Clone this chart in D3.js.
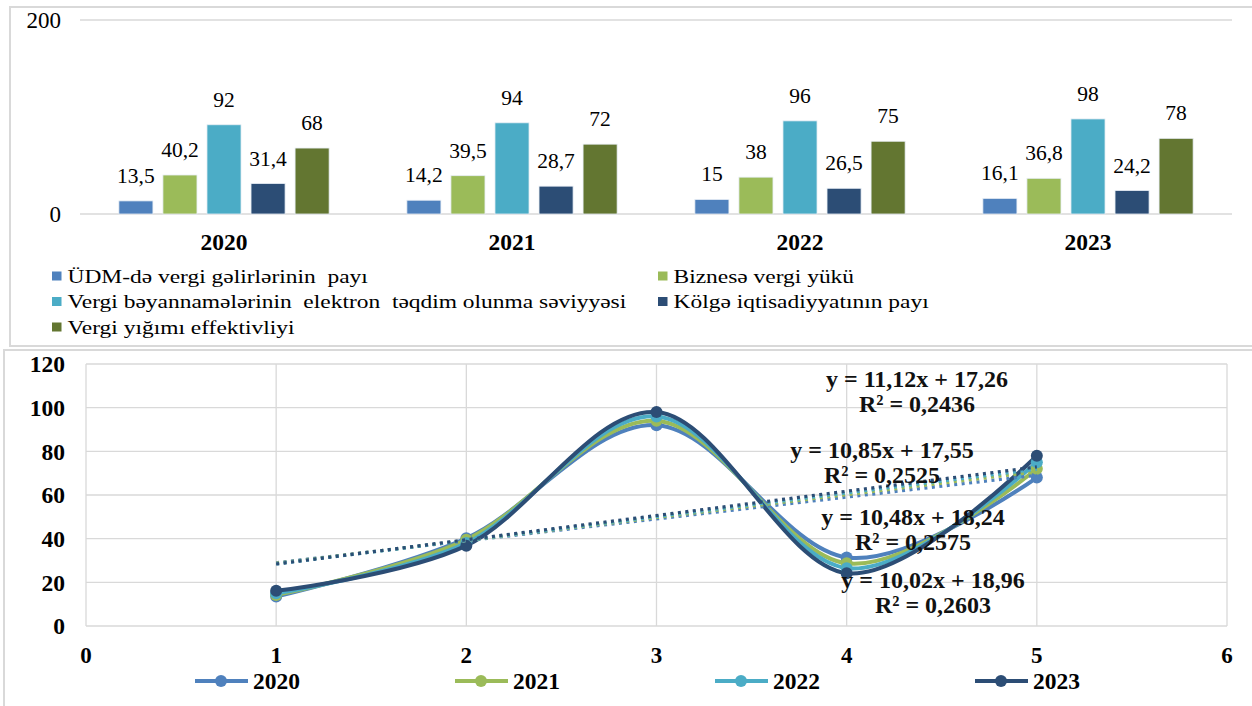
<!DOCTYPE html>
<html>
<head>
<meta charset="utf-8">
<script src="https://cdn.jsdelivr.net/npm/d3@7"></script>
<style>
body { margin: 0; background: #fff; }
svg { display: block; }
svg text { font-family: 'Liberation Serif', 'Times New Roman', Tinos, 'DejaVu Serif', serif; }
</style>
</head>
<body>
<div id="chart"></div>
<script>
// data
var years = ['2020', '2021', '2022', '2023'];
var indicators = [
	'ÜDM-də vergi gəlirlərinin  payı',
	'Biznesə vergi yükü',
	'Vergi bəyannamələrinin  elektron  təqdim olunma səviyyəsi',
	'Kölgə iqtisadiyyatının payı',
	'Vergi yığımı effektivliyi'
];
var v2020 = [13.5, 40.2, 92, 31.4, 68];
var v2021 = [14.2, 39.5, 94, 28.7, 72];
var v2022 = [15, 38, 96, 26.5, 75];
var v2023 = [16.1, 36.8, 98, 24.2, 78];
var barTicks = [0, 200];
var lineXTicks = [0, 1, 2, 3, 4, 5, 6];
var lineYTicks = [0, 20, 40, 60, 80, 100, 120];
var positions = [1, 2, 3, 4, 5];

var seriesByYear = [v2020, v2021, v2022, v2023];
var colors = ['#4f81bd', '#9bbb59', '#4bacc6', '#2c4d75', '#637631'];

const width = 1252;
const height = 706;
const serif = "'Liberation Serif', 'Times New Roman', Tinos, 'DejaVu Serif', serif";

var svg = d3.select('#chart').append('svg')
	.attr('width', width)
	.attr('height', height)
	.attr('font-family', serif);

// frames of the two pasted charts
svg.append('rect').attr('x', 10).attr('y', 7).attr('width', 1260).attr('height', 339)
	.attr('fill', 'none').attr('stroke', '#d9d9d9').attr('stroke-width', 2);
svg.append('rect').attr('x', 4).attr('y', 350).attr('width', 1260).attr('height', 380)
	.attr('fill', '#fff').attr('stroke', '#d9d9d9').attr('stroke-width', 2);

// ---------- top: grouped bars ----------
const barArea = { left: 80, right: 1232, y0: 214, y1: 20 };

const x0 = d3.scaleBand().domain(years).range([barArea.left, barArea.right])
	.paddingInner(0.27).paddingOuter(0.135);
const x1 = d3.scaleBand().domain(d3.range(indicators.length)).range([0, x0.bandwidth()])
	.paddingInner(0.227).paddingOuter(0);
const yBar = d3.scaleLinear().domain([0, 200]).range([barArea.y0, barArea.y1]);

var gTop = svg.append('g');

gTop.selectAll('line.grid').data(barTicks).enter().append('line')
	.attr('x1', barArea.left).attr('x2', barArea.right)
	.attr('y1', d => yBar(d)).attr('y2', d => yBar(d))
	.attr('stroke', '#d9d9d9').attr('stroke-width', 1.3);

gTop.selectAll('text.ytick').data(barTicks).enter().append('text')
	.attr('x', 61).attr('y', d => yBar(d)).attr('dy', '0.35em')
	.attr('text-anchor', 'end').style('font-size', '23px')
	.text(d => d);

var groups = gTop.selectAll('g.year').data(years).enter().append('g')
	.attr('transform', d => 'translate(' + x0(d) + ',0)');

groups.selectAll('rect').data((d, i) => seriesByYear[i].map((v, j) => ({ v: v, j: j })))
	.enter().append('rect')
	.attr('x', d => x1(d.j)).attr('width', x1.bandwidth())
	.attr('y', d => yBar(d.v)).attr('height', d => yBar(0) - yBar(d.v))
	.attr('fill', d => colors[d.j])
	.attr('stroke', '#e8eef5').attr('stroke-width', 0.8);

groups.selectAll('text').data((d, i) => seriesByYear[i].map((v, j) => ({ v: v, j: j })))
	.enter().append('text')
	.attr('x', d => x1(d.j) + x1.bandwidth() / 2)
	.attr('y', d => yBar(d.v) - 18)
	.attr('text-anchor', 'middle').style('font-size', '21.5px')
	.text(d => String(d.v).replace('.', ','));

gTop.selectAll('text.cat').data(years).enter().append('text')
	.attr('x', d => x0(d) + x0.bandwidth() / 2).attr('y', 250)
	.attr('text-anchor', 'middle').style('font-size', '23.5px').style('font-weight', 'bold')
	.text(d => d);

// legend text in the original is stretched sideways
var legTop = gTop.selectAll('g.leg').data(indicators).enter().append('g')
	.attr('transform', (d, i) => 'translate(' + (i % 2 ? 658 : 52) + ',' + (276 + Math.floor(i / 2) * 25.5) + ')');
legTop.append('rect').attr('x', 0).attr('y', -4.5).attr('width', 9.5).attr('height', 9)
	.attr('fill', (d, i) => colors[i]);
legTop.append('text')
	.attr('transform', 'translate(15.5,0) scale(1.235,1)')
	.attr('dy', '0.35em')
	.style('font-size', '19px').style('white-space', 'pre')
	.text(d => d);

// ---------- bottom: smoothed lines with linear trends ----------
const lineArea = { left: 86, right: 1227, y0: 626, y1: 364 };
const xLine = d3.scaleLinear().domain([0, 6]).range([lineArea.left, lineArea.right]);
const yLine = d3.scaleLinear().domain([0, 120]).range([lineArea.y0, lineArea.y1]);

var gBot = svg.append('g');

gBot.selectAll('line.hgrid').data(lineYTicks).enter().append('line')
	.attr('x1', lineArea.left).attr('x2', lineArea.right)
	.attr('y1', d => yLine(d)).attr('y2', d => yLine(d))
	.attr('stroke', '#d9d9d9').attr('stroke-width', 1.3);
gBot.selectAll('line.vgrid').data(lineXTicks).enter().append('line')
	.attr('y1', lineArea.y0).attr('y2', lineArea.y1)
	.attr('x1', d => xLine(d)).attr('x2', d => xLine(d))
	.attr('stroke', '#d9d9d9').attr('stroke-width', 1.3);

gBot.selectAll('text.ytick').data(lineYTicks).enter().append('text')
	.attr('x', 65).attr('y', d => yLine(d)).attr('dy', '0.35em')
	.attr('text-anchor', 'end').style('font-size', '23.5px').style('font-weight', 'bold')
	.text(d => d);
gBot.selectAll('text.xtick').data(lineXTicks).enter().append('text')
	.attr('x', d => xLine(d)).attr('y', 663)
	.attr('text-anchor', 'middle').style('font-size', '23px').style('font-weight', 'bold')
	.text(d => d);

var line = d3.line()
	.x((d, i) => xLine(positions[i]))
	.y(d => yLine(d))
	.curve(d3.curveCardinal.tension(0));

gBot.selectAll('path.series').data(seriesByYear).enter().append('path')
	.attr('d', line).attr('fill', 'none')
	.attr('stroke', (d, i) => colors[i]).attr('stroke-width', 4);

seriesByYear.forEach(function(s, k) {
	gBot.selectAll('circle.m' + k).data(s).enter().append('circle')
		.attr('cx', (d, i) => xLine(positions[i])).attr('cy', d => yLine(d))
		.attr('r', 6).attr('fill', colors[k]);
});

// least squares fits
function fit(s) {
	var mx = d3.mean(positions), my = d3.mean(s);
	var sxy = d3.sum(s, (d, i) => (positions[i] - mx) * (d - my));
	var sxx = d3.sum(positions, d => (d - mx) * (d - mx));
	var syy = d3.sum(s, d => (d - my) * (d - my));
	var slope = sxy / sxx;
	return { a: slope, b: my - slope * mx, r2: sxy * sxy / (sxx * syy) };
}
var fits = seriesByYear.map(fit);

gBot.selectAll('line.trend').data(fits).enter().append('line')
	.attr('x1', xLine(1)).attr('x2', xLine(5))
	.attr('y1', d => yLine(d.a * 1 + d.b)).attr('y2', d => yLine(d.a * 5 + d.b))
	.attr('stroke', (d, i) => colors[i]).attr('stroke-width', 3.2)
	.attr('stroke-dasharray', '3,4.5');

// where Excel dropped the equation boxes
var eqPos = [[933, 588], [913, 525], [882, 458], [917, 387]];
function fmt(v, n) { return v.toFixed(n).replace('.', ','); }

var eq = gBot.selectAll('text.eq').data(fits).enter().append('text')
	.attr('text-anchor', 'middle').style('font-size', '24px').style('font-weight', 'bold')
	.attr('fill', '#111');
eq.append('tspan').attr('x', (d, i) => eqPos[i][0]).attr('y', (d, i) => eqPos[i][1])
	.text(d => 'y = ' + fmt(d.a, 2) + 'x + ' + fmt(d.b, 2));
eq.append('tspan').attr('x', (d, i) => eqPos[i][0]).attr('y', (d, i) => eqPos[i][1] + 25)
	.text(d => 'R² = ' + fmt(d.r2, 4));

var legBot = gBot.selectAll('g.leg').data(years).enter().append('g')
	.attr('transform', (d, i) => 'translate(' + (195 + i * 260) + ',681)');
legBot.append('line').attr('x1', 0).attr('x2', 53)
	.attr('stroke', (d, i) => colors[i]).attr('stroke-width', 4);
legBot.append('circle').attr('cx', 26).attr('r', 6).attr('fill', (d, i) => colors[i]);
legBot.append('text').attr('x', 58).attr('dy', '0.35em')
	.style('font-size', '23.5px').style('font-weight', 'bold')
	.text(d => d);
</script>
</body>
</html>
